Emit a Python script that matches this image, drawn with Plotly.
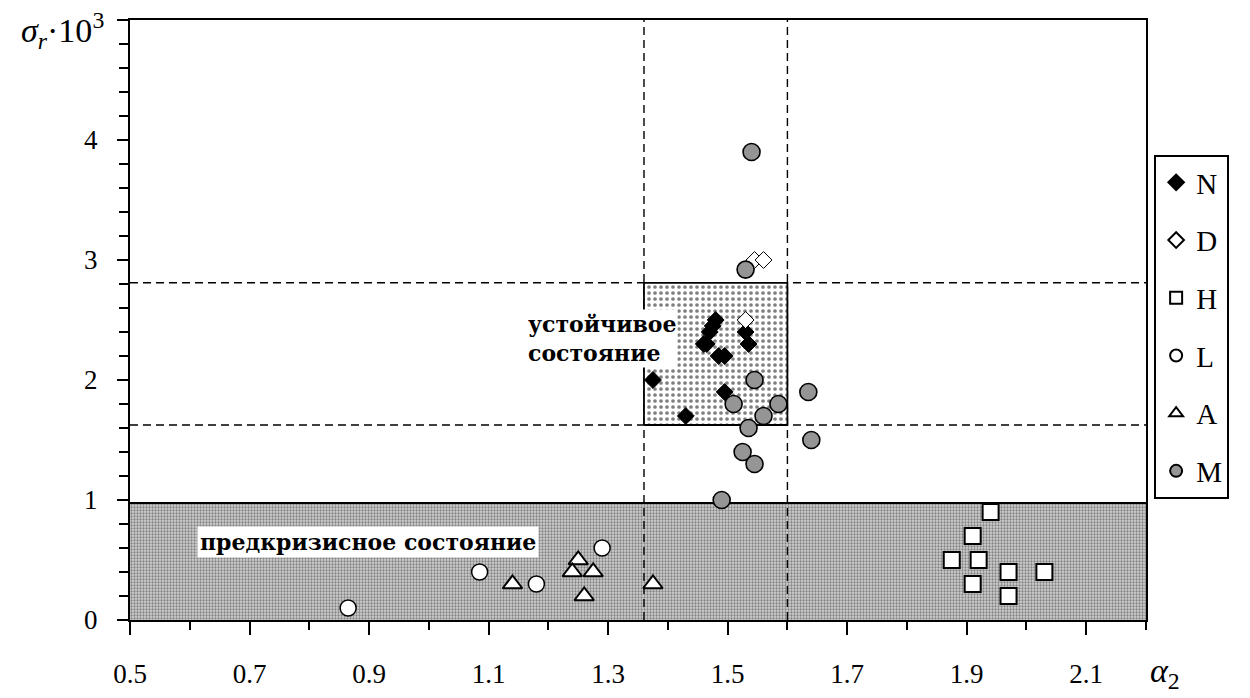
import plotly.graph_objects as go

# ---- data ----
N_x = [1.48, 1.475, 1.47, 1.46, 1.465, 1.485, 1.495, 1.53, 1.535, 1.375, 1.495, 1.43]
N_y = [2.5, 2.45, 2.4, 2.3, 2.3, 2.2, 2.2, 2.4, 2.3, 2.0, 1.9, 1.7]
D_x = [1.545, 1.56, 1.53]
D_y = [3.0, 3.0, 2.5]
H_x = [1.94, 1.91, 1.875, 1.92, 1.97, 2.03, 1.91, 1.97]
H_y = [0.9, 0.7, 0.5, 0.5, 0.4, 0.4, 0.3, 0.2]
L_x = [0.865, 1.085, 1.18, 1.29]
L_y = [0.1, 0.4, 0.3, 0.6]
A_x = [1.14, 1.25, 1.24, 1.275, 1.26, 1.375]
A_y = [0.3, 0.5, 0.4, 0.4, 0.2, 0.3]
M_x = [1.54, 1.53, 1.545, 1.635, 1.51, 1.585, 1.56, 1.535, 1.64, 1.525, 1.545, 1.49]
M_y = [3.9, 2.92, 2.0, 1.9, 1.8, 1.8, 1.7, 1.6, 1.5, 1.4, 1.3, 1.0]

x_range = [0.5, 2.2]
y_range = [0, 5]
band_y = [0, 0.975]           # pre-crisis band
stable_x = [1.36, 1.60]       # stable zone bounds
stable_y = [1.625, 2.81]

x_tickvals = [0.5, 0.7, 0.9, 1.1, 1.3, 1.5, 1.7, 1.9, 2.1]
x_ticktext = ["0.5", "0.7", "0.9", "1.1", "1.3", "1.5", "1.7", "1.9", "2.1"]
y_tickvals = [0, 1, 2, 3, 4, 5]
y_ticktext = ["0", "1", "2", "3", "4", ""]

FONT = "Liberation Serif"
LABEL_FONT = "DejaVu Serif"

fig = go.Figure()

# pre-crisis band
fig.add_trace(go.Scatter(
    x=[x_range[0], x_range[1], x_range[1], x_range[0], x_range[0]],
    y=[band_y[0], band_y[0], band_y[1], band_y[1], band_y[0]],
    mode="lines", fill="toself", fillcolor="#d0d0d0",
    fillpattern=dict(shape=".", bgcolor="#d0d0d0", fgcolor="#333333", size=3, solidity=0.45),
    line=dict(width=0), showlegend=False, hoverinfo="skip"))
fig.add_trace(go.Scatter(
    x=x_range, y=[band_y[1], band_y[1]], mode="lines",
    line=dict(color="black", width=2), showlegend=False, hoverinfo="skip"))

# dashed guide lines
for xv in stable_x:
    fig.add_trace(go.Scatter(x=[xv, xv], y=y_range, mode="lines",
                             line=dict(color="black", width=1.4, dash="8px,5px"),
                             showlegend=False, hoverinfo="skip"))
for yv in stable_y:
    fig.add_trace(go.Scatter(x=x_range, y=[yv, yv], mode="lines",
                             line=dict(color="black", width=1.4, dash="8px,5px"),
                             showlegend=False, hoverinfo="skip"))

# stable zone
fig.add_trace(go.Scatter(
    x=[stable_x[0], stable_x[1], stable_x[1], stable_x[0], stable_x[0]],
    y=[stable_y[0], stable_y[0], stable_y[1], stable_y[1], stable_y[0]],
    mode="lines", fill="toself", fillcolor="white",
    fillpattern=dict(shape=".", bgcolor="white", fgcolor="black", size=6, solidity=0.3),
    line=dict(color="black", width=1.8), showlegend=False, hoverinfo="skip"))

series = [
    ("N", N_x, N_y, dict(symbol="diamond", size=13, color="black", line=dict(color="black", width=1))),
    ("D", D_x, D_y, dict(symbol="diamond", size=13, color="white", line=dict(color="black", width=1))),
    ("H", H_x, H_y, dict(symbol="square", size=16, color="white", line=dict(color="black", width=2))),
    ("L", L_x, L_y, dict(symbol="circle", size=16, color="white", line=dict(color="black", width=1.5))),
    ("A", A_x, A_y, dict(symbol="triangle-up", size=17, color="white", line=dict(color="black", width=2))),
    ("M", M_x, M_y, dict(symbol="circle", size=17, color="#959595", line=dict(color="black", width=1.6))),
]
for name, xs, ys, mk in series:
    fig.add_trace(go.Scatter(x=xs, y=ys, mode="markers", name=name, marker=mk,
                             legendgroup=name))

fig.update_layout(
    width=1250, height=698,
    margin=dict(l=130, r=104, t=20, b=78, autoexpand=False),
    paper_bgcolor="white", plot_bgcolor="white",
    font=dict(family=FONT, color="black", size=27),
    showlegend=True,
    legend=dict(x=1.008, y=0.775, xanchor="left", yanchor="top",
                bordercolor="black", borderwidth=2, bgcolor="white",
                font=dict(family=FONT, size=29), tracegroupgap=17,
                itemsizing="constant", traceorder="grouped"),
    xaxis=dict(range=x_range, showgrid=False, zeroline=False, automargin=False,
               showline=True, linecolor="black", linewidth=2, mirror=True,
               tickmode="array", tickvals=x_tickvals, ticktext=x_ticktext,
               ticks="outside", ticklen=13, tickwidth=1.5, tickcolor="black",
               ticklabelstandoff=16,
               minor=dict(tickmode="linear", tick0=0.5, dtick=0.1, ticks="outside",
                          ticklen=8, tickwidth=1.5, tickcolor="black", showgrid=False),
               tickfont=dict(family=FONT, size=27)),
    yaxis=dict(range=y_range, showgrid=False, zeroline=False, automargin=False,
               showline=True, linecolor="black", linewidth=2, mirror=True,
               tickmode="array", tickvals=y_tickvals, ticktext=y_ticktext,
               ticks="outside", ticklen=11, tickwidth=1.5, tickcolor="black",
               ticklabelstandoff=14,
               minor=dict(tickmode="linear", tick0=0, dtick=0.2, ticks="outside",
                          ticklen=9, tickwidth=1.5, tickcolor="black", showgrid=False),
               tickfont=dict(family=FONT, size=27)),
)

fig.add_annotation(xref="paper", yref="paper", x=-0.024, y=0.982,
                   xanchor="right", yanchor="middle", showarrow=False,
                   text="<i>σ<sub>r</sub></i>·10<sup>3</sup>",
                   font=dict(family=FONT, size=34))
fig.add_annotation(xref="paper", yref="paper", x=1.002, y=-0.088,
                   xanchor="left", yanchor="middle", showarrow=False,
                   text="<i>α</i><sub>2</sub>",
                   font=dict(family=FONT, size=34))
fig.add_annotation(x=1.163, y=2.35, xref="x", yref="y", xanchor="left", yanchor="middle",
                   showarrow=False, align="left", bgcolor="white", borderpad=1,
                   text="устойчивое<br>состояние",
                   font=dict(family=LABEL_FONT, size=22, weight="bold"))
fig.add_annotation(x=0.612, y=0.65, xref="x", yref="y", xanchor="left", yanchor="middle",
                   showarrow=False, align="left", bgcolor="white", borderpad=2,
                   text="предкризисное состояние",
                   font=dict(family=LABEL_FONT, size=22, weight="bold"))

fig.write_html("out.html")
